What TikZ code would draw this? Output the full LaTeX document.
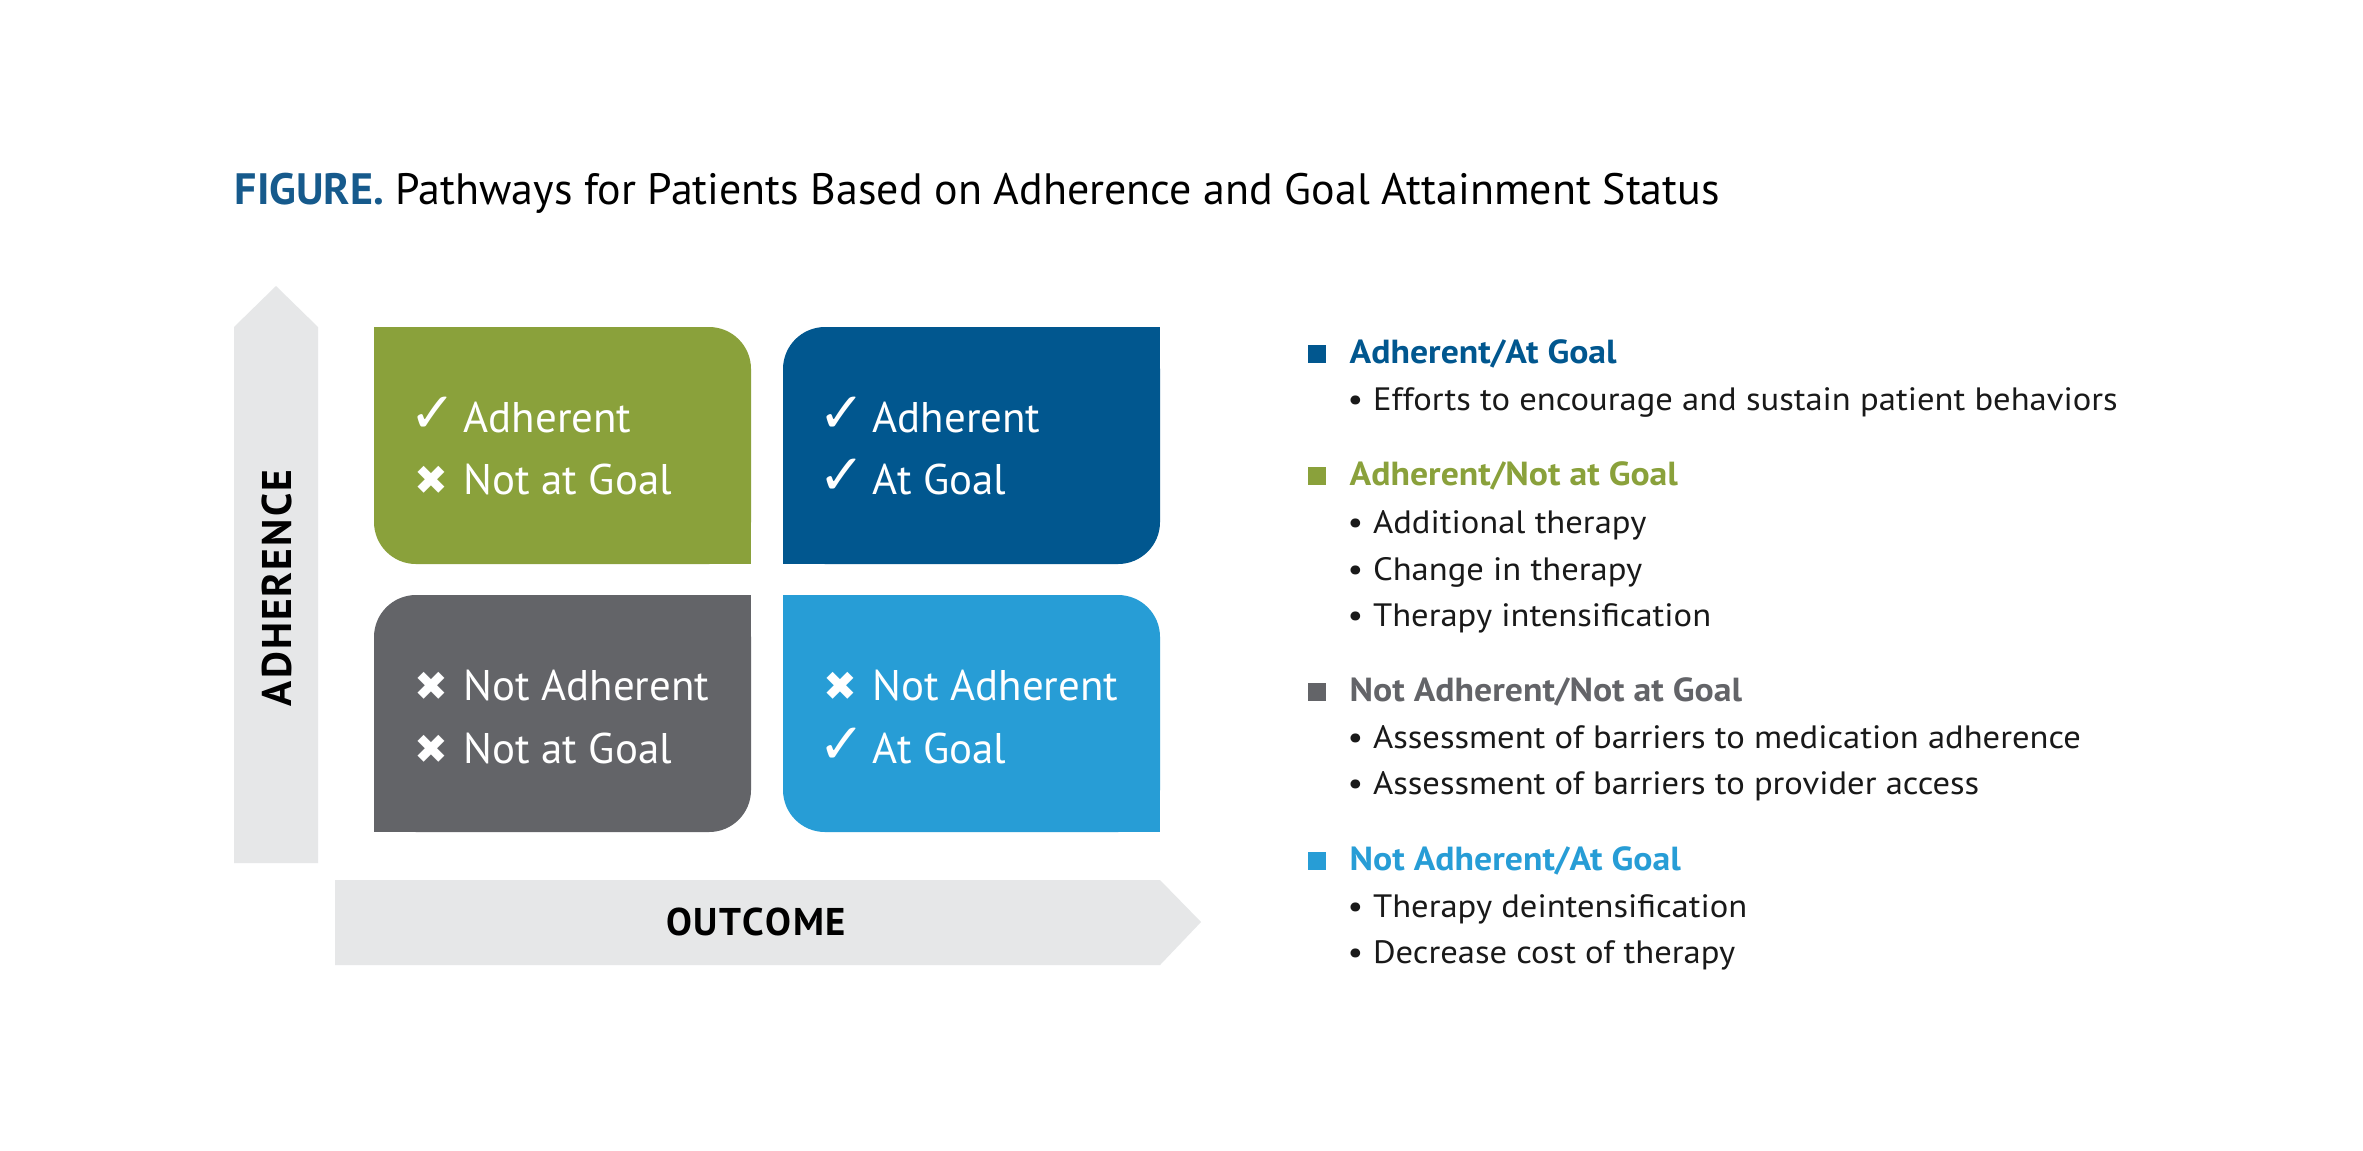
\documentclass[tikz,border=0pt]{standalone}
\usepackage{fontspec}
\setmainfont{PT Sans}
\newfontfamily\symfont{DejaVu Sans}
\newfontfamily\legfont{PT Sans}[FakeStretch=1.07]
\definecolor{cgreen}{RGB}{138,161,59}
\definecolor{cdblue}{RGB}{1,87,143}
\definecolor{cgray}{RGB}{99,100,104}
\definecolor{clblue}{RGB}{39,157,214}
\definecolor{carrow}{RGB}{230,231,232}
\definecolor{ctitle}{RGB}{22,90,140}
\definecolor{ctext}{RGB}{25,25,25}
\tikzset{
  boxtxt/.style={anchor=base west, inner sep=0pt, text=white, font=\fontsize{12.2}{14}\selectfont},
  chk/.style={anchor=base west, inner sep=0pt, text=white, font=\symfont\fontsize{16}{18}\selectfont},
  crs/.style={anchor=base west, inner sep=0pt, text=white, font=\symfont\fontsize{11.5}{13}\selectfont},
  axislbl/.style={inner sep=0pt, text=black, font=\bfseries\fontsize{11.8}{14}\selectfont},
  lhead/.style={anchor=base west, inner sep=0pt, font=\legfont\bfseries\fontsize{9.5}{11}\selectfont},
  litem/.style={anchor=base west, inner sep=0pt, text=ctext, font=\legfont\fontsize{9.2}{11}\selectfont},
  lmark/.style={inner sep=0pt, minimum size=1.8mm},
}
\begin{document}
\begin{tikzpicture}[x=0.1mm,y=-0.1mm]
\useasboundingbox (0,0) rectangle (2363,1150);
\fill[white] (0,0) rectangle (2363,1150);

% title
\node[anchor=base west, inner sep=0pt, font=\fontsize{12.5}{14}\selectfont] (title) at (234,204)
  {\textcolor{ctitle}{\bfseries FIGURE.} Pathways for Patients Based on Adherence and Goal Attainment Status};

% axis arrows
\fill[carrow] (234,863) -- (234,327) -- (276,286) -- (318,327) -- (318,863) -- cycle;
\fill[carrow] (335,880) -- (1160,880) -- (1201,922) -- (1160,965) -- (335,965) -- cycle;
\node[axislbl, rotate=90] (adh) at (277,588) {A\hspace{0.6pt}D\hspace{0.6pt}H\hspace{0.6pt}E\hspace{0.6pt}R\hspace{0.6pt}E\hspace{0.6pt}N\hspace{0.6pt}C\hspace{0.6pt}E};
\node[axislbl, font=\bfseries\fontsize{11}{13}\selectfont] (out) at (756,922) {O\hspace{0.4pt}U\hspace{0.4pt}T\hspace{0.4pt}C\hspace{0.4pt}O\hspace{0.4pt}M\hspace{0.4pt}E};

% quadrant boxes
% green: rounded TR, BL
\fill[cgreen, rounded corners=4.2mm] (374,327) rectangle (751,564);
\fill[cgreen] (374,327) rectangle (430,383);
\fill[cgreen] (695,508) rectangle (751,564);
% dark blue: rounded TL, BR
\fill[cdblue, rounded corners=4.2mm] (783,327) rectangle (1160,564);
\fill[cdblue] (1104,327) rectangle (1160,383);
\fill[cdblue] (783,508) rectangle (839,564);
% gray: rounded TL, BR
\fill[cgray, rounded corners=4.2mm] (374,595) rectangle (751,832);
\fill[cgray] (695,595) rectangle (751,651);
\fill[cgray] (374,776) rectangle (430,832);
% light blue: rounded TR, BL
\fill[clblue, rounded corners=4.2mm] (783,595) rectangle (1160,832);
\fill[clblue] (783,595) rectangle (839,651);
\fill[clblue] (1104,776) rectangle (1160,832);

% box texts
\node[chk] (g1m) at (409,432) {✓};
\node[boxtxt] (g1) at (463,432) {Adherent};
\node[crs] (g2m) at (414,494) {✖};
\node[boxtxt] (g2) at (463,494) {Not at Goal};

\node[chk] (b1m) at (818,432) {✓};
\node[boxtxt] (b1) at (872,432) {Adherent};
\node[chk] (b2m) at (818,494) {✓};
\node[boxtxt] (b2) at (872,494) {At Goal};

\node[crs] (k1m) at (414,700) {✖};
\node[boxtxt] (k1) at (463,700) {Not Adherent};
\node[crs] (k2m) at (414,763) {✖};
\node[boxtxt] (k2) at (463,763) {Not at Goal};

\node[crs] (l1m) at (823,700) {✖};
\node[boxtxt] (l1) at (872,700) {Not Adherent};
\node[chk] (l2m) at (818,763) {✓};
\node[boxtxt] (l2) at (872,763) {At Goal};

% legend
\node[lmark, fill=cdblue] (m1) at (1317,354) {};
\node[lhead, text=cdblue] (h1) at (1349,363) {Adherent/At Goal};
\node[litem] (i11) at (1347,410) {•\hspace{0.3em}Efforts to encourage and sustain patient behaviors};

\node[lmark, fill=cgreen] (m2) at (1317,476) {};
\node[lhead, text=cgreen] (h2) at (1349,485) {Adherent/Not at Goal};
\node[litem] (i21) at (1347,533) {•\hspace{0.3em}Additional therapy};
\node[litem] (i22) at (1347,580) {•\hspace{0.3em}Change in therapy};
\node[litem] (i23) at (1347,626) {•\hspace{0.3em}Therapy intensification};

\node[lmark, fill=cgray] (m3) at (1317,692) {};
\node[lhead, text=cgray] (h3) at (1349,701) {Not Adherent/Not at Goal};
\node[litem] (i31) at (1347,748) {•\hspace{0.3em}Assessment of barriers to medication adherence};
\node[litem] (i32) at (1347,794) {•\hspace{0.3em}Assessment of barriers to provider access};

\node[lmark, fill=clblue] (m4) at (1317,861) {};
\node[lhead, text=clblue] (h4) at (1349,870) {Not Adherent/At Goal};
\node[litem] (i41) at (1347,917) {•\hspace{0.3em}Therapy deintensification};
\node[litem] (i42) at (1347,963) {•\hspace{0.3em}Decrease cost of therapy};
\end{tikzpicture}
\end{document}
